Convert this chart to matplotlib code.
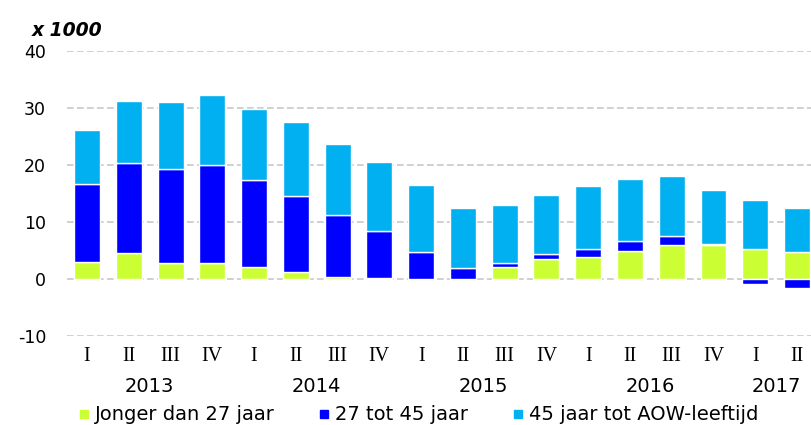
import numpy as np
import matplotlib
matplotlib.use('Agg')
import matplotlib.pyplot as plt
from matplotlib.lines import Line2D

plt.rcParams['axes.unicode_minus'] = False

# kwartalen 2013 I t/m 2017 II
quarters = ['I', 'II', 'III', 'IV'] * 4 + ['I', 'II']
years = ['2013', '2014', '2015', '2016', '2017']
year_pos = [1.5, 5.5, 9.5, 13.5, 16.5]

labels = ['Jonger dan 27 jaar', '27 tot 45 jaar', '45 jaar tot AOW-leeftijd']
colors = ['#ccff33', '#0000ff', '#00b0f0']

# x 1000
jong = [3.05, 4.6, 2.8, 2.8, 2.1, 1.3, 0.35, 0.2, 0.05, 0.0, 2.05, 3.5, 3.9, 5.0, 5.9, 5.9, 5.2, 4.7]
midden = [13.65, 15.8, 16.5, 17.2, 15.2, 13.3, 10.85, 8.2, 4.7, 1.9, 0.75, 0.9, 1.4, 1.6, 1.7, 0.2, -0.9, -1.6]
oud = [9.5, 10.8, 11.7, 12.2, 12.5, 12.9, 12.5, 12.1, 11.75, 10.6, 10.2, 10.3, 11.0, 10.9, 10.4, 9.5, 8.6, 7.8]

series = [np.array(jong), np.array(midden), np.array(oud)]
x = np.arange(len(quarters))

fig = plt.figure(figsize=(8.12, 4.25), dpi=100)
ax = fig.add_axes([67/812, 89/425, 1 - 67/812, 285/425])

pos_base = np.zeros(len(x))
neg_base = np.zeros(len(x))
for vals, c, lab in zip(series, colors, labels):
    bottom = np.where(vals >= 0, pos_base, neg_base)
    ax.bar(x, vals, bottom=bottom, width=0.62, color=c, edgecolor='white', linewidth=1.0, label=lab, zorder=3)
    pos_base = pos_base + np.where(vals >= 0, vals, 0)
    neg_base = neg_base + np.where(vals < 0, vals, 0)

ax.set_ylim(-10, 40)
ax.set_xlim(-0.48, 17.36)
ax.set_yticks([-10, 0, 10, 20, 30, 40])
ax.grid(axis='y', color='#c8c8c8', linestyle=(0, (4, 2)), linewidth=1.2, zorder=0)
for s in ax.spines.values():
    s.set_visible(False)
ax.tick_params(axis='y', length=0, pad=15, labelsize=12.5)
ax.set_xticks(x)
ax.set_xticklabels(quarters, family='Liberation Serif', fontsize=14.5)
ax.tick_params(axis='x', length=0, pad=8)

for yr, p in zip(years, year_pos):
    ax.text(p, -0.178, yr, transform=ax.get_xaxis_transform(), ha='center', va='center', fontsize=14)

fig.text(32/812, 1 - 31/425, 'x 1000', fontsize=13.5, fontweight='bold', style='italic', va='center')

handles = [Line2D([], [], marker='s', linestyle='', color=c, markersize=5.5) for c in colors]
fig.legend(handles, labels, loc='center left', bbox_to_anchor=(78/812, 1 - 415/425), ncol=3,
           frameon=False, fontsize=14, handlelength=0.6, handletextpad=0.27, columnspacing=2.25,
           borderaxespad=0, borderpad=0)

fig.savefig('out.png', dpi=100)
